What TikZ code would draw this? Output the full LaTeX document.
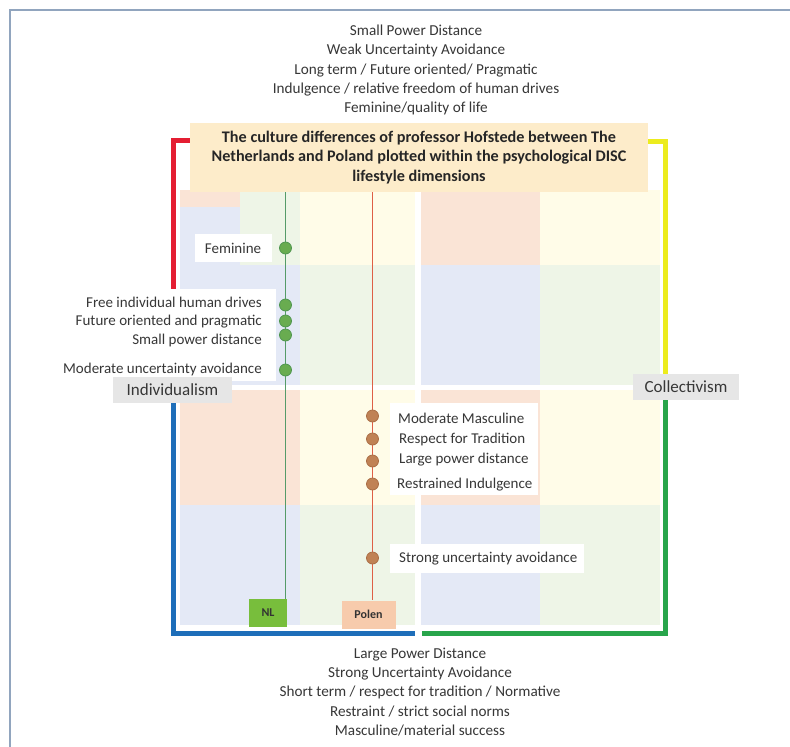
\documentclass[tikz,border=0pt]{standalone}
\usepackage{fontspec}
\setmainfont{Carlito}
\definecolor{peach}{RGB}{250,228,214}
\definecolor{cream}{RGB}{255,252,232}
\definecolor{bluebg}{RGB}{228,233,246}
\definecolor{greenbg}{RGB}{238,245,231}
\definecolor{titlefill}{RGB}{253,236,202}
\definecolor{redline}{RGB}{228,30,50}
\definecolor{yellowline}{RGB}{236,236,30}
\definecolor{blueline}{RGB}{30,110,185}
\definecolor{greenline}{RGB}{40,165,75}
\definecolor{nlfill}{RGB}{120,190,60}
\definecolor{polenfill}{RGB}{247,203,172}
\definecolor{dotgreen}{RGB}{105,172,80}
\definecolor{dotgreenedge}{RGB}{80,150,80}
\definecolor{dotbrown}{RGB}{192,130,85}
\definecolor{dotbrownedge}{RGB}{170,110,70}
\definecolor{nlline}{RGB}{85,155,105}
\definecolor{polenline}{RGB}{222,95,70}
\definecolor{labelgray}{RGB}{230,230,230}
\definecolor{framegray}{RGB}{145,165,190}
\definecolor{txtgray}{RGB}{55,55,55}
\begin{document}
\begin{tikzpicture}[x=1pt,y=-1pt,
  txt/.style={font=\fontsize{15.2}{19.4}\selectfont, text=txtgray, inner sep=0pt, align=center},
  lbl/.style={font=\fontsize{15}{16}\selectfont, text=txtgray, inner sep=0pt},
  whitepanel/.style={fill=white, draw=none},
  nldot/.style={circle, fill=dotgreen, draw=dotgreenedge, line width=0.8pt, minimum size=12pt, inner sep=0pt},
  pldot/.style={circle, fill=dotbrown, draw=dotbrownedge, line width=0.8pt, minimum size=12pt, inner sep=0pt},
  axislbl/.style={fill=labelgray, font=\fontsize{17}{19}\selectfont, text=txtgray, inner sep=0pt, minimum height=26pt},
  bracket/.style={line width=5pt},
  countrybox/.style={font=\bfseries\fontsize{12}{14}\selectfont, text=black!80, inner sep=0pt, minimum height=28pt}
]
\useasboundingbox (0,0) rectangle (790,747);
\fill[white] (0,0) rectangle (790,747);
\draw[framegray, line width=1.6pt] (10,747) -- (10,10) -- (790,10);

% four DISC quadrants, each split into coloured fields
% top left
\fill[peach] (180,190) rectangle (240,207);
\fill[greenbg] (240,190) rectangle (300,207);
\fill[bluebg] (180,207) rectangle (240,265);
\fill[greenbg] (240,207) rectangle (300,265);
\fill[cream] (300,190) rectangle (415,265);
\fill[bluebg] (180,265) rectangle (300,385);
\fill[greenbg] (300,265) rectangle (415,385);
% top right
\fill[peach] (421,190) rectangle (540,265);
\fill[cream] (540,190) rectangle (660,265);
\fill[bluebg] (421,265) rectangle (540,385);
\fill[greenbg] (540,265) rectangle (660,385);
% bottom left
\fill[peach] (180,390) rectangle (300,505);
\fill[cream] (300,390) rectangle (415,505);
\fill[bluebg] (180,505) rectangle (300,625);
\fill[greenbg] (300,505) rectangle (415,625);
% bottom right
\fill[peach] (421,390) rectangle (540,505);
\fill[cream] (540,390) rectangle (660,505);
\fill[bluebg] (421,505) rectangle (540,625);
\fill[greenbg] (540,505) rectangle (660,625);

% coloured corner brackets
\draw[bracket, redline] (190,140) -- (173.5,140) -- (173.5,386);
\draw[bracket, yellowline] (648,141) -- (665,141) -- (665,378);
\draw[bracket, blueline] (173.5,402) -- (173.5,633) -- (415,633);
\draw[bracket, greenline] (422,633) -- (665,633) -- (665,400);

% title
\node[fill=titlefill, minimum width=458pt, minimum height=69pt, inner sep=0pt] (title) at (419,157.5) {};
\node[font=\bfseries\fontsize{16.2}{19.4}\selectfont, text=black!85, align=center, inner sep=0pt] (titletext) at (title.center)
  {The culture differences of professor Hofstede between The\\Netherlands and Poland plotted within the psychological DISC\\lifestyle dimensions};

% top and bottom dimension lists
\node[txt] (toplist) at (416,70) {Small Power Distance\\Weak Uncertainty Avoidance\\Long term / Future oriented/ Pragmatic\\Indulgence / relative freedom of human drives\\Feminine/quality of life};
\node[txt] (bottomlist) at (420,692) {Large Power Distance\\Strong Uncertainty Avoidance\\Short term / respect for tradition / Normative\\Restraint / strict social norms\\Masculine/material success};

% country boxes
\node[countrybox, fill=nlfill, minimum width=38pt] (nlbox) at (268,613) {NL};
\node[countrybox, fill=polenfill, minimum width=54pt] (plbox) at (368.5,614.5) {Polen};

% country axes
\coordinate (nlx) at (285.5,0);
\coordinate (plx) at (372.5,0);
\draw[nlline, line width=1.3pt] (title.south -| nlx) -- (nlbox.north -| nlx);
\draw[polenline, line width=1.3pt] (title.south -| plx) -- (plbox.north -| plx);

% label panels
\fill[whitepanel] (195,234) rectangle (272,262);
\fill[whitepanel] (58,289) rectangle (276,381);
\fill[whitepanel] (390,403) rectangle (538,495);
\fill[whitepanel] (390,544) rectangle (584,573);

% axis labels
\node[axislbl, minimum width=119pt] (indiv) at (172.5,390) {Individualism};
\node[axislbl, minimum width=106pt] (coll) at (686,387) {Collectivism};

% Netherlands scores
\node[nldot] (n1) at (285.5,248) {};
\node[nldot] (n2) at (285.5,305) {};
\node[nldot] (n3) at (285.5,321) {};
\node[nldot] (n4) at (285.5,335) {};
\node[nldot] (n5) at (285.5,370) {};
\node[lbl] (fem) at (233,248) {Feminine};
\node[lbl, anchor=east] (l2) at (262,302) {Free individual human drives};
\node[lbl, anchor=east] (l3) at (262,322) {Future oriented and pragmatic};
\node[lbl, anchor=east] (l4) at (262,340) {Small power distance};
\node[lbl, anchor=east] (l5) at (262,369) {Moderate uncertainty avoidance};

% Poland scores
\node[pldot] (p1) at (372.5,416) {};
\node[pldot] (p2) at (372.5,439) {};
\node[pldot] (p3) at (372.5,461) {};
\node[pldot] (p4) at (372.5,484) {};
\node[pldot] (p5) at (372.5,558) {};
\node[lbl, anchor=west] (q1) at (398,418) {Moderate Masculine};
\node[lbl, anchor=west] (q2) at (399,439) {Respect for Tradition};
\node[lbl, anchor=west] (q3) at (399,460) {Large power distance};
\node[lbl, anchor=west] (q4) at (397,485) {Restrained Indulgence};
\node[lbl, anchor=west] (q5) at (399,559) {Strong uncertainty avoidance};
\end{tikzpicture}
\end{document}
